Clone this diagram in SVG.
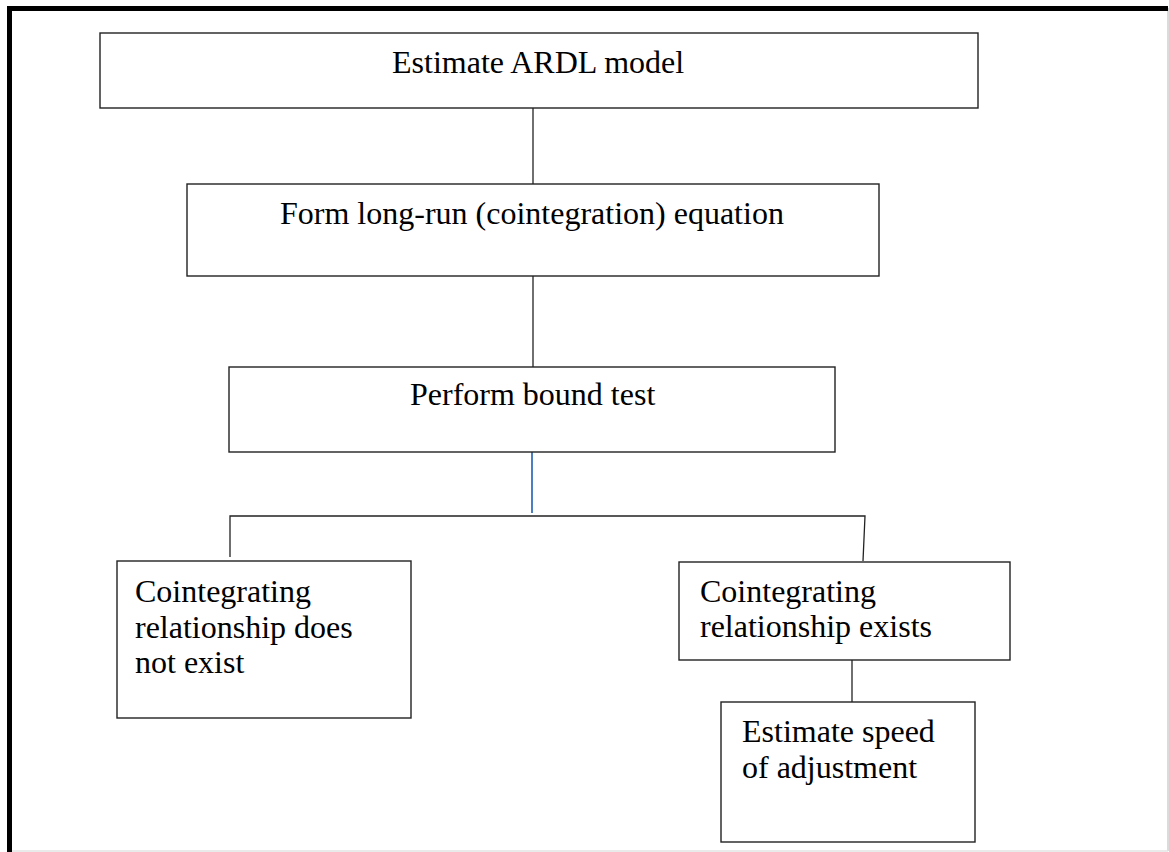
<svg xmlns="http://www.w3.org/2000/svg" width="1169" height="852" viewBox="0 0 1169 852">
<style>
.box{fill:#fff;stroke:#222;stroke-width:1.4}
.t{font-family:"Liberation Serif","Times New Roman",serif;font-size:32px;fill:#000}
.c{stroke:#222;stroke-width:1.3;fill:none}
.cb{stroke:#4a7fc1;stroke-width:2;fill:none}
</style>
<rect width="1169" height="852" fill="#fff"/>
<g id="frame">
<line x1="1168" y1="8" x2="1168" y2="851" stroke="#cfcfcf" stroke-width="1.5"/>
<line x1="9" y1="851" x2="1168" y2="851" stroke="#e3e3e3" stroke-width="1.5"/>
<line x1="7" y1="8.5" x2="1168" y2="8.5" stroke="#000" stroke-width="5"/>
<line x1="9.5" y1="6" x2="9.5" y2="852" stroke="#000" stroke-width="5"/>
</g>
<g id="connectors">
<line class="c" x1="533" y1="108" x2="533" y2="184"/>
<line class="c" x1="533" y1="276" x2="533" y2="367"/>
<line class="cb" x1="532" y1="452" x2="532" y2="513"/>
<polyline class="c" points="230,557 230,516 865,516 863,561"/>
<line class="c" x1="852" y1="660" x2="852" y2="702"/>
</g>
<g id="n1"><rect class="box" x="100" y="33" width="878" height="75"/><text class="t" x="392" y="73">Estimate ARDL model</text></g>
<g id="n2"><rect class="box" x="187" y="184" width="692" height="92"/><text class="t" x="280" y="224">Form long-run (cointegration) equation</text></g>
<g id="n3"><rect class="box" x="229" y="367" width="606" height="85"/><text class="t" x="410" y="405">Perform bound test</text></g>
<g id="n4"><rect class="box" x="117" y="561" width="294" height="157"/><text class="t" x="135" y="602">Cointegrating</text><text class="t" x="135" y="638">relationship does</text><text class="t" x="135" y="673">not exist</text></g>
<g id="n5"><rect class="box" x="679" y="562" width="331" height="98"/><text class="t" x="700" y="602">Cointegrating</text><text class="t" x="700" y="637">relationship exists</text></g>
<g id="n6"><rect class="box" x="721" y="702" width="254" height="140"/><text class="t" x="742" y="742">Estimate speed</text><text class="t" x="742" y="778">of adjustment</text></g>
</svg>
